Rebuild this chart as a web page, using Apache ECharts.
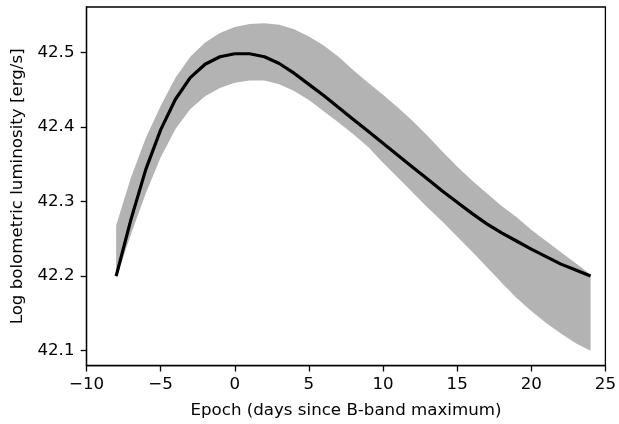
<!DOCTYPE html>
<html>
<head>
<meta charset="utf-8">
<script src="https://cdn.jsdelivr.net/npm/echarts@6/dist/echarts.min.js"></script>
<style>
html,body{margin:0;padding:0;background:#fff;}
#chart{width:619px;height:424px;}
</style>
</head>
<body>
<div id="chart"></div>
<script>
const epochs = [-8,-7,-6,-5,-4,-3,-2,-1,0,1,2,3,4,5,6,7,8,9,10,11,12,13,14,15,16,17,18,19,20,21,22,23,24];
const lumMean = [42.200,42.276,42.343,42.396,42.437,42.466,42.484,42.494,42.498,42.498,42.494,42.485,42.472,42.457,42.442,42.426,42.410,42.394,42.378,42.362,42.346,42.330,42.314,42.299,42.284,42.270,42.258,42.247,42.236,42.226,42.216,42.208,42.200];
const lumUpper = [42.268,42.332,42.385,42.428,42.466,42.494,42.513,42.526,42.534,42.538,42.539,42.537,42.531,42.521,42.509,42.494,42.476,42.459,42.443,42.426,42.408,42.388,42.367,42.347,42.328,42.311,42.294,42.279,42.262,42.247,42.232,42.217,42.202];
const lumLower = [42.197,42.256,42.311,42.359,42.397,42.424,42.441,42.452,42.459,42.462,42.462,42.457,42.448,42.436,42.421,42.406,42.390,42.373,42.352,42.332,42.312,42.292,42.273,42.253,42.233,42.212,42.191,42.171,42.153,42.137,42.123,42.110,42.100];
const yTicks = [42.1,42.2,42.3,42.4,42.5];

const chart = echarts.init(document.getElementById('chart'), null, {renderer:'canvas'});
const font = 'DejaVu Sans';
const fs = 16.67;
chart.setOption({
  animation:false,
  backgroundColor:'#fff',
  grid:{left:86.5,right:12.5,top:7,bottom:58.3,show:true,borderColor:'#000',borderWidth:1.3,backgroundColor:'transparent'},
  xAxis:{
    type:'value',min:-10,max:25,interval:5,
    name:'Epoch (days since B-band maximum)',nameLocation:'middle',nameGap:36,
    nameTextStyle:{fontFamily:font,fontSize:fs,color:'#000'},
    axisLine:{show:true,onZero:false,lineStyle:{color:'#000',width:1.3}},
    axisTick:{show:true,inside:false,length:5.8,lineStyle:{color:'#000',width:1.3}},
    axisLabel:{fontFamily:font,fontSize:fs,color:'#000',margin:10,
      formatter:v=> v<0 ? '\u2212'+Math.abs(v) : String(v)},
    splitLine:{show:false}
  },
  yAxis:{
    type:'value',min:42.0798,max:42.5607,
    name:'Log bolometric luminosity [erg/s]',nameLocation:'middle',nameGap:58,
    nameTextStyle:{fontFamily:font,fontSize:fs,color:'#000'},
    axisLine:{show:true,onZero:false,lineStyle:{color:'#000',width:1.3}},
    axisTick:{show:true,inside:false,length:5.8,lineStyle:{color:'#000',width:1.3},customValues:yTicks},
    axisLabel:{fontFamily:font,fontSize:fs,color:'#000',margin:12,customValues:yTicks,
      formatter:v=>v.toFixed(1)},
    splitLine:{show:false}
  },
  series:[
    {type:'custom',name:'band',silent:true,z:1,
     data:[0],
     renderItem:function(params,api){
       const pts=[];
       for(let i=0;i<epochs.length;i++) pts.push(api.coord([epochs[i],lumUpper[i]]));
       for(let i=epochs.length-1;i>=0;i--) pts.push(api.coord([epochs[i],lumLower[i]]));
       return {type:'polygon',shape:{points:pts},style:{fill:'#b3b3b3',stroke:null}};
     }},
    {type:'line',name:'mean',symbol:'none',silent:true,
     data:epochs.map((e,i)=>[e,lumMean[i]]),
     lineStyle:{color:'#000',width:3.2,cap:'butt',join:'round'},z:3}
  ]
});
</script>
</body>
</html>
